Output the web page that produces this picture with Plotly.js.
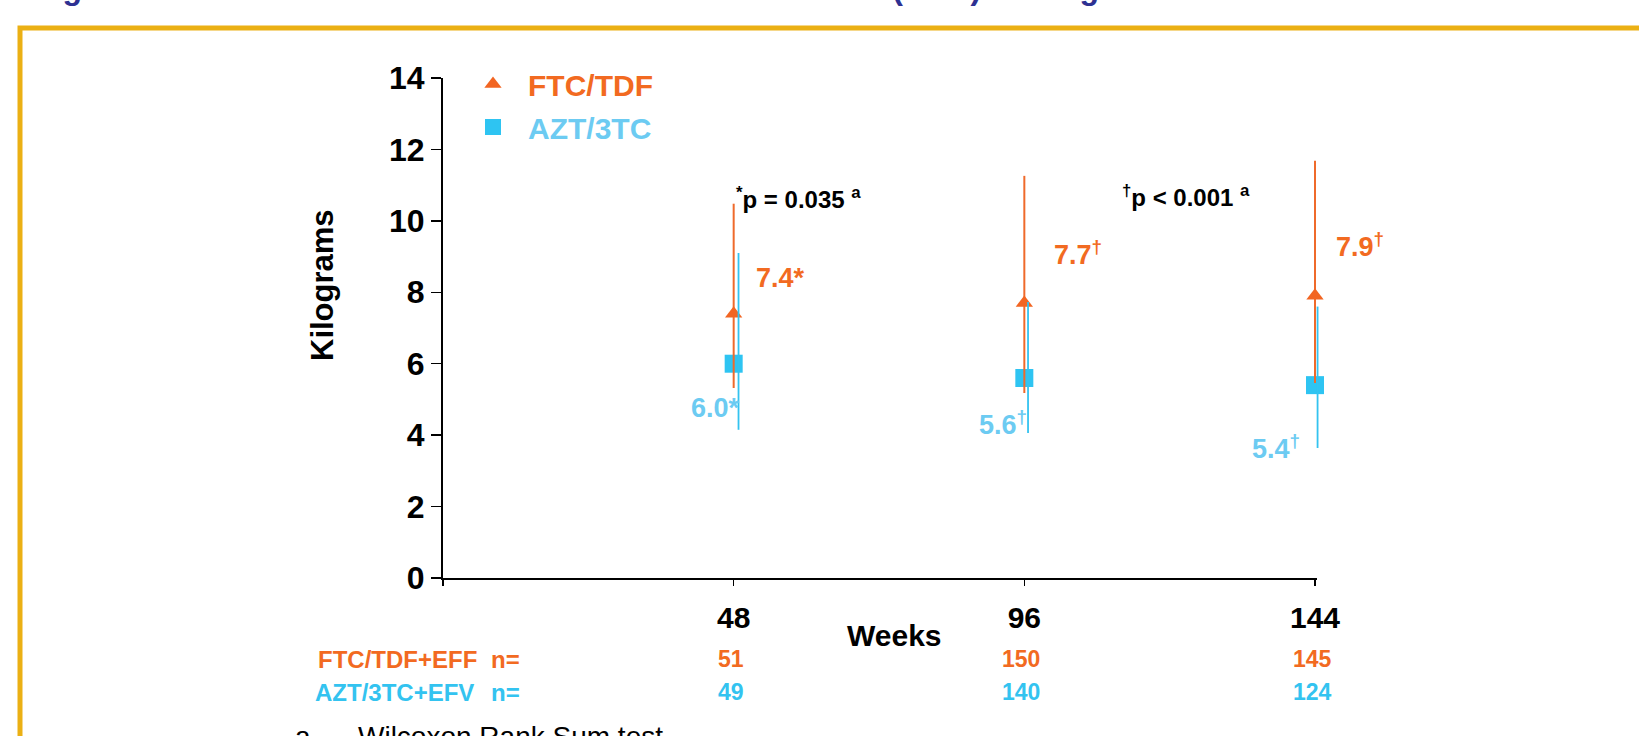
<!DOCTYPE html>
<html>
<head>
<meta charset="utf-8">
<script src="https://cdn.plot.ly/plotly-3.0.1.min.js"></script>
<style>
  html, body { margin: 0; padding: 0; background: #ffffff; }
  #chart { width: 1639px; height: 736px; }
</style>
</head>
<body>
<div id="chart"></div>
<script>
// ---- data ----
const weeks = [48, 96, 144];
const ftcMedian = [7.4, 7.7, 7.9];
const ftcUpper = [10.48, 11.26, 11.68];
const ftcLower = [5.32, 5.18, 5.46];
const aztMedian = [6.0, 5.6, 5.4];
const aztUpper = [9.1, 7.73, 7.6];
const aztLower = [4.15, 4.06, 3.64];
const ftcN = [51, 150, 145];
const aztN = [49, 140, 124];
const sigMarks = ['*', '†', '†'];
const yTickVals = [0, 2, 4, 6, 8, 10, 12, 14];
const xTickVals = [0, 48, 96, 144];
const xTickText = ['', '48', '96', '144'];
const seriesNames = ['FTC/TDF', 'AZT/3TC'];
const rowNames = ['FTC/TDF+EFF', 'AZT/3TC+EFV'];
const pTexts = ['<sup>*</sup>p = 0.035 <sup>a</sup>', '<sup>†</sup>p < 0.001 <sup>a</sup>'];
const footnote = ['a', 'Wilcoxon Rank Sum test'];
const titleText = 'Figure 5: Median Limb Fat Measured at Each Time Point (DXA) Among Treated Patients';

// ---- styles / layout geometry ----
const ORANGE = '#F26522';
const ORANGE_TXT = '#F26A21';
const BLUE = '#2EC4F2';
const BLUE_LINE = '#33C3F0';
const BLUE_TXT = '#6CCBF2';
const FONT = 'Liberation Sans, Arial, sans-serif';
const PL = 443, PT = 78, PW = 882, PH = 500;
const px = v => (v - PL) / PW;        // pixel x -> paper x
const py = v => (PT + PH - v) / PH;   // pixel y -> paper y

const traces = [
  {
    type: 'scatter', mode: 'markers', x: weeks, y: aztMedian,
    name: '<span style="color:' + BLUE_TXT + '">' + seriesNames[1] + '</span>',
    legendgroup: 'b', legendrank: 2,
    marker: { symbol: 'square', size: 18, color: BLUE },
    cliponaxis: false, hoverinfo: 'x+y'
  },
  {
    type: 'scatter', mode: 'markers', x: weeks, y: ftcMedian,
    name: '<span style="color:' + ORANGE_TXT + '">' + seriesNames[0] + '</span>',
    legendgroup: 'a', legendrank: 1,
    marker: { symbol: 'triangle-up', size: 15, color: ORANGE },
    error_y: {
      type: 'data', symmetric: false,
      array: ftcUpper.map((u, i) => u - ftcMedian[i]),
      arrayminus: ftcLower.map((l, i) => ftcMedian[i] - l),
      color: '#EF6A2B', thickness: 2, width: 0
    },
    cliponaxis: false, hoverinfo: 'x+y'
  },
  {
    type: 'scatter', mode: 'markers', x: weeks, y: aztMedian, xaxis: 'x2',
    showlegend: false, legendgroup: 'b',
    marker: { symbol: 'square', size: 1, color: BLUE, opacity: 0 },
    error_y: {
      type: 'data', symmetric: false,
      array: aztUpper.map((u, i) => u - aztMedian[i]),
      arrayminus: aztLower.map((l, i) => aztMedian[i] - l),
      color: BLUE_LINE, thickness: 1.8, width: 0
    },
    cliponaxis: false, hoverinfo: 'skip'
  }
];

const annotations = [];
function ann(o) {
  annotations.push(Object.assign({ showarrow: false, xanchor: 'center', yanchor: 'middle' }, o));
}
// value labels (offsets in px from each point)
const ftcLabelShift = [[20, 36], [28, 50], [19, 51]];
const aztLabelShift = [[8, -44], [5, -45], [-13, -62]];
weeks.forEach((w, i) => {
  const mk = sigMarks[i] === '*' ? '*' : '<sup>' + sigMarks[i] + '</sup>';
  ann({
    x: w, y: ftcMedian[i], xref: 'x', yref: 'y', xanchor: 'left',
    text: ftcMedian[i].toFixed(1) + mk, xshift: ftcLabelShift[i][0], yshift: ftcLabelShift[i][1],
    font: { family: FONT, size: 27, color: ORANGE_TXT, weight: 'bold' }
  });
  ann({
    x: w, y: aztMedian[i], xref: 'x', yref: 'y', xanchor: 'right',
    text: aztMedian[i].toFixed(1) + mk, xshift: aztLabelShift[i][0], yshift: aztLabelShift[i][1],
    font: { family: FONT, size: 27, color: BLUE_TXT, weight: 'bold' }
  });
  // n table
  ann({
    x: w, y: py(659), xref: 'x', yref: 'paper', xshift: -3,
    text: String(ftcN[i]),
    font: { family: FONT, size: 23, color: ORANGE_TXT, weight: 'bold' }
  });
  ann({
    x: w, y: py(692), xref: 'x', yref: 'paper', xshift: -3,
    text: String(aztN[i]),
    font: { family: FONT, size: 23, color: BLUE_LINE, weight: 'bold' }
  });
});
// n table row headers
ann({ x: px(316), y: py(659), xref: 'paper', yref: 'paper', xanchor: 'left',
  text: rowNames[0], font: { family: FONT, size: 24, color: ORANGE_TXT, weight: 'bold' } });
ann({ x: px(489), y: py(659), xref: 'paper', yref: 'paper', xanchor: 'left',
  text: 'n=', font: { family: FONT, size: 24, color: ORANGE_TXT, weight: 'bold' } });
ann({ x: px(313), y: py(692), xref: 'paper', yref: 'paper', xanchor: 'left',
  text: rowNames[1], font: { family: FONT, size: 24, color: BLUE_LINE, weight: 'bold' } });
ann({ x: px(489), y: py(692), xref: 'paper', yref: 'paper', xanchor: 'left',
  text: 'n=', font: { family: FONT, size: 24, color: BLUE_LINE, weight: 'bold' } });
// p-values
ann({ x: px(734), y: py(198), xref: 'paper', yref: 'paper', xanchor: 'left',
  text: pTexts[0], font: { family: FONT, size: 24, color: '#000000', weight: 'bold' } });
ann({ x: px(1120), y: py(196), xref: 'paper', yref: 'paper', xanchor: 'left',
  text: pTexts[1], font: { family: FONT, size: 24, color: '#000000', weight: 'bold' } });
// axis titles
ann({ x: px(322), y: py(285), xref: 'paper', yref: 'paper', textangle: -90,
  text: 'Kilograms', font: { family: FONT, size: 31, color: '#000000', weight: 'bold' } });
ann({ x: px(894), y: py(635), xref: 'paper', yref: 'paper',
  text: 'Weeks', font: { family: FONT, size: 30, color: '#000000', weight: 'bold' } });
// footnote (cut by the bottom edge, as in the reference)
ann({ x: px(293), y: py(736), xref: 'paper', yref: 'paper', xanchor: 'left',
  text: footnote[0], font: { family: FONT, size: 28, color: '#000000' } });
ann({ x: px(356), y: py(736), xref: 'paper', yref: 'paper', xanchor: 'left',
  text: footnote[1], font: { family: FONT, size: 28, color: '#000000' } });
// slide title, almost entirely above the top edge (as in the reference)
ann({ x: px(32), y: py(-12), xref: 'paper', yref: 'paper', xanchor: 'left',
  text: titleText, font: { family: FONT, size: 32, color: '#2E3192', weight: 'bold' } });

const layout = {
  width: 1639, height: 736,
  margin: { l: PL, r: 1639 - PL - PW, t: PT, b: 736 - PT - PH, pad: 0 },
  paper_bgcolor: '#ffffff', plot_bgcolor: 'rgba(0,0,0,0)',
  showlegend: true,
  legend: {
    x: px(458), y: py(58), xanchor: 'left', yanchor: 'top',
    traceorder: 'grouped', tracegroupgap: 1, itemwidth: 60,
    bgcolor: 'rgba(0,0,0,0)',
    font: { family: FONT, size: 30, color: '#000000', weight: 'bold' }
  },
  xaxis: {
    domain: [0, px(1317)], range: [0, 144 * 874 / 872],
    tickvals: xTickVals, ticktext: xTickText,
    showgrid: false, zeroline: false, showline: true, linecolor: '#000000', linewidth: 2,
    ticks: 'outside', ticklen: 6, tickwidth: 1.5, tickcolor: '#000000',
    ticklabelstandoff: 6,
    tickfont: { family: FONT, size: 30, color: '#000000', weight: 'bold' }
  },
  xaxis2: {
    anchor: 'y', domain: [px(447), px(1323)], range: [-0.33, 144.9],
    visible: false, showgrid: false, zeroline: false
  },
  yaxis: {
    range: [0, 14], tickvals: yTickVals,
    showgrid: false, zeroline: false, showline: true, linecolor: '#000000', linewidth: 2,
    ticks: 'outside', ticklen: 10, tickwidth: 1.5, tickcolor: '#000000',
    tickfont: { family: FONT, size: 32, color: '#000000', weight: 'bold' }
  },
  shapes: [
    {
      type: 'rect', xref: 'paper', yref: 'paper', layer: 'below',
      x0: px(20), x1: px(1680), y0: py(780), y1: py(28),
      line: { color: '#EBB014', width: 5 }, fillcolor: 'rgba(0,0,0,0)'
    }
  ],
  annotations: annotations
};

Plotly.newPlot('chart', traces, layout, { displayModeBar: false, staticPlot: true });
</script>
</body>
</html>
